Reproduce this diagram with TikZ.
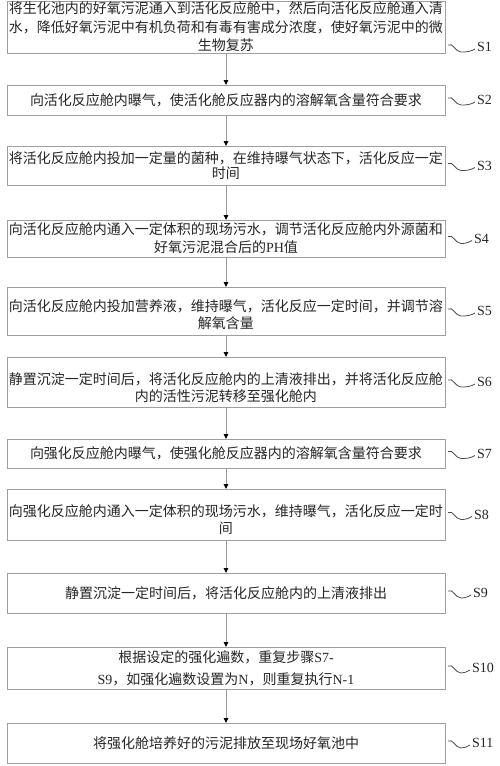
\documentclass[tikz,border=0pt]{standalone}
\usepackage{fontspec}
\setmainfont{Liberation Serif}
\newfontfamily\cjk{Noto Sans CJK SC}
\usetikzlibrary{positioning, arrows.meta}
\newcommand{\lat}[1]{{\rmfamily #1}}

\begin{document}
\begin{tikzpicture}[
  x=1pt, y=1pt,
  >={Triangle[length=5pt, width=4.5pt, black]},
  stepbox/.style = {draw=gray!75, line width=0.9pt, fill=white, align=center, inner xsep=2pt, inner ysep=0pt,
                    outer sep=0pt, minimum width=438pt, text=black!85, font=\cjk\fontsize{14pt}{17pt}\selectfont},
  arr/.style  = {->, gray!80, line width=0.9pt},
  wave/.style = {gray!60!black, line width=0.8pt},
  tag/.style  = {font=\rmfamily\fontsize{14pt}{16pt}\selectfont, text=black!85, inner xsep=2pt, inner ysep=0pt},
]
  \useasboundingbox (0,0) rectangle (500,-766);

  \node[stepbox, minimum height=52pt, font=\cjk\fontsize{14pt}{18.5pt}\selectfont] (s1) at (226,-27)
    {将生化池内的好氧污泥通入到活化反应舱中，然后向活化反应舱通入清\\水，降低好氧污泥中有机负荷和有毒有害成分浓度，使好氧污泥中的微\\生物复苏};
  \node[stepbox, minimum height=30pt, below=32pt of s1]  (s2)  {向活化反应舱内曝气，使活化舱反应器内的溶解氧含量符合要求};
  \node[stepbox, minimum height=39pt, below=31pt of s2, font=\cjk\fontsize{14pt}{15pt}\selectfont] (s3)
    {将活化反应舱内投加一定量的菌种，在维持曝气状态下，活化反应一定\\时间};
  \node[stepbox, minimum height=37pt, below=35pt of s3, font=\cjk\fontsize{14pt}{18pt}\selectfont]  (s4)
    {向活化反应舱内通入一定体积的现场污水，调节活化反应舱内外源菌和\\好氧污泥混合后的\lat{PH}值};
  \node[stepbox, minimum height=48pt, below=30pt of s4]  (s5)
    {\rule{0pt}{20pt}向活化反应舱内投加营养液，维持曝气，活化反应一定时间，并调节溶\\解氧含量};
  \node[stepbox, minimum height=50pt, below=22pt of s5]  (s6)
    {\rule{0pt}{24pt}静置沉淀一定时间后，将活化反应舱内的上清液排出，并将活化反应舱\\内的活性污泥转移至强化舱内};
  \node[stepbox, minimum height=29pt, below=32pt of s6]  (s7)  {向强化反应舱内曝气，使强化舱反应器内的溶解氧含量符合要求};
  \node[stepbox, minimum height=51pt, below=21pt of s7]  (s8)
    {\rule{0pt}{22pt}向强化反应舱内通入一定体积的现场污水，维持曝气，活化反应一定时\\间};
  \node[stepbox, minimum height=40pt, below=33pt of s8]  (s9)  {静置沉淀一定时间后，将活化反应舱内的上清液排出};
  \node[stepbox, minimum height=42pt, below=34pt of s9, font=\cjk\fontsize{14pt}{22pt}\selectfont] (s10)
    {根据设定的强化遍数，重复步骤\lat{S7-}\\\lat{S9}，如强化遍数设置为\lat{N}，则重复执行\lat{N-1}};
  \node[stepbox, minimum height=40pt, below=34pt of s10] (s11) {将强化舱培养好的污泥排放至现场好氧池中};

  \node[tag, right=30pt of s1, yshift=-20pt] (l1)  {S1};
  \node[tag, right=30pt of s2]  (l2)  {S2};
  \node[tag, right=30pt of s3]  (l3)  {S3};
  \node[tag, right=27pt of s4]  (l4)  {S4};
  \node[tag, right=30pt of s5]  (l5)  {S5};
  \node[tag, right=30pt of s6]  (l6)  {S6};
  \node[tag, right=30pt of s7]  (l7)  {S7};
  \node[tag, right=27pt of s8]  (l8)  {S8};
  \node[tag, right=26pt of s9]  (l9)  {S9};
  \node[tag, right=25pt of s10] (l10) {S10};
  \node[tag, right=25pt of s11] (l11) {S11};

  \draw[arr] (s1)  -- (s2);
  \draw[arr] (s2)  -- (s3);
  \draw[arr] (s3)  -- (s4);
  \draw[arr] (s4)  -- (s5);
  \draw[arr] (s5)  -- (s6);
  \draw[arr] (s6)  -- (s7);
  \draw[arr] (s7)  -- (s8);
  \draw[arr] (s8)  -- (s9);
  \draw[arr] (s9)  -- (s10);
  \draw[arr] (s10) -- (s11);

  \draw[wave] ([xshift=3pt, yshift=-18pt]s1.east) to[out=30, in=180] ++(13,-7) to[out=0, in=210] ([yshift=-2pt]l1.west);
  \draw[wave] ([xshift=3pt, yshift=2pt]s2.east)  to[out=30, in=180] ++(13,-7) to[out=0, in=210] ([yshift=-2pt]l2.west);
  \draw[wave] ([xshift=3pt, yshift=2pt]s3.east)  to[out=30, in=180] ++(13,-7) to[out=0, in=210] ([yshift=-2pt]l3.west);
  \draw[wave] ([xshift=3pt, yshift=2pt]s4.east)  to[out=30, in=180] ++(13,-7) to[out=0, in=210] ([yshift=-2pt]l4.west);
  \draw[wave] ([xshift=3pt, yshift=2pt]s5.east)  to[out=30, in=180] ++(13,-7) to[out=0, in=210] ([yshift=-2pt]l5.west);
  \draw[wave] ([xshift=3pt, yshift=2pt]s6.east)  to[out=30, in=180] ++(13,-7) to[out=0, in=210] ([yshift=-2pt]l6.west);
  \draw[wave] ([xshift=3pt, yshift=2pt]s7.east)  to[out=30, in=180] ++(13,-7) to[out=0, in=210] ([yshift=-2pt]l7.west);
  \draw[wave] ([xshift=3pt, yshift=2pt]s8.east)  to[out=30, in=180] ++(13,-7) to[out=0, in=210] ([yshift=-2pt]l8.west);
  \draw[wave] ([xshift=3pt, yshift=2pt]s9.east)  to[out=30, in=180] ++(13,-7) to[out=0, in=210] ([yshift=-2pt]l9.west);
  \draw[wave] ([xshift=3pt, yshift=2pt]s10.east) to[out=30, in=180] ++(13,-7) to[out=0, in=210] ([yshift=-2pt]l10.west);
  \draw[wave] ([xshift=3pt, yshift=2pt]s11.east) to[out=30, in=180] ++(13,-7) to[out=0, in=210] ([yshift=-2pt]l11.west);
\end{tikzpicture}
\end{document}
